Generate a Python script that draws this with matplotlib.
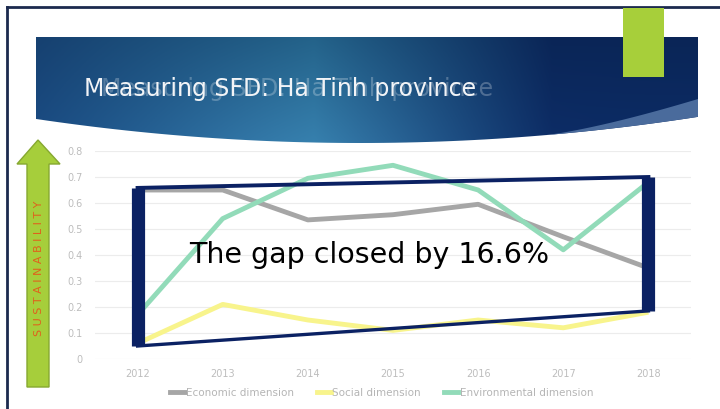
import numpy as np
import matplotlib
matplotlib.use("Agg")
import matplotlib.pyplot as plt
from matplotlib.patches import Polygon
from matplotlib.lines import Line2D

# data
years = [2012, 2013, 2014, 2015, 2016, 2017, 2018]
economic = [0.65, 0.65, 0.535, 0.555, 0.595, 0.47, 0.35]
social = [0.06, 0.21, 0.15, 0.11, 0.15, 0.12, 0.18]
environmental = [0.17, 0.54, 0.695, 0.745, 0.65, 0.42, 0.68]
series_names = ["Economic dimension", "Social dimension", "Environmental dimension"]
y_ticks = [0, 0.1, 0.2, 0.3, 0.4, 0.5, 0.6, 0.7, 0.8]
y_tick_labels = ["0", "0.1", "0.2", "0.3", "0.4", "0.5", "0.6", "0.7", "0.8"]

# the "gap" frame drawn over the chart (top edge / bottom edge)
gap_top = [0.658, 0.70]
gap_bottom = [0.05, 0.185]

W, H = 720, 409
fig = plt.figure(figsize=(W / 100, H / 100), dpi=100)
fig.patch.set_facecolor("white")

# background layer in pixel coords
bg = fig.add_axes([0, 0, 1, 1], zorder=0)
bg.set_xlim(0, W)
bg.set_ylim(H, 0)
bg.axis("off")

# slide border
bg.plot([7, W], [7, 7], color="#1c2a4e", lw=2)
bg.plot([7, 7], [7, H], color="#1c2a4e", lw=2)

# banner with gradient and curved bottom
bx0, bx1, by0, by1 = 36, 698, 37, 145
xs = np.linspace(bx0, bx1, 400)
ys = np.linspace(by0, by1, 80)
X, Y = np.meshgrid(xs, ys)
t = (X - bx0) / (bx1 - bx0)
u = (Y - by0) / (by1 - by0)
left = np.array([0x1a, 0x4c, 0x84]) / 255
mid = np.array([0x2a, 0x74, 0xa2]) / 255
right = np.array([0x0c, 0x2c, 0x66]) / 255
img = np.zeros(X.shape + (3,))
for c in range(3):
    img[..., c] = np.interp(t, [0, 0.42, 0.78, 1], [left[c], mid[c], right[c], right[c]])
glow = np.exp(-((t - 0.4) / 0.25) ** 2) * u
img = img * (0.85 + 0.15 * u[..., None]) + 0.05 * glow[..., None]
img = np.clip(img, 0, 1)


def banner_bottom(x):
    return 143 - 0.000229 * (x - 360) ** 2


curve_x = np.linspace(bx0, bx1, 60)
curve_y = banner_bottom(curve_x)
banner_pts = [(bx0, by0), (bx1, by0)] + list(zip(curve_x[::-1], curve_y[::-1]))
banner = Polygon(banner_pts, closed=True, facecolor="none", edgecolor="none")
bg.add_patch(banner)
im = bg.imshow(img, extent=[bx0, bx1, by1, by0], aspect="auto", zorder=1)
im.set_clip_path(banner)

# lighter wedge at the right end of the banner
wx = np.linspace(540, bx1, 30)
wy_top = banner_bottom(540) - (banner_bottom(540) - 99) * ((wx - 540) / (bx1 - 540)) ** 1.3
wy_bot = banner_bottom(wx)
wedge = list(zip(wx, wy_top)) + list(zip(wx[::-1], wy_bot[::-1]))
bg.add_patch(Polygon(wedge, closed=True, facecolor="#4a6b9c", edgecolor="none", zorder=2))

# green tab
bg.add_patch(Polygon([(623, 8), (664, 8), (664, 77), (623, 77)], closed=True,
                     facecolor="#a7cf3a", edgecolor="none", zorder=3))

title = "Measuring SFD: Ha Tinh province"
bg.text(101, 96, title, color="white", alpha=0.25, fontsize=17, family="DejaVu Sans",
        ha="left", va="baseline", zorder=4)
bg.text(84, 96, title, color="#f2f4f7", fontsize=17, family="DejaVu Sans",
        ha="left", va="baseline", zorder=5)

# sustainability arrow
arrow = [(38, 140), (60, 164), (49, 164), (49, 387), (27, 387), (27, 164), (17, 164)]
bg.add_patch(Polygon(arrow, closed=True, facecolor="#a6ce3b", edgecolor="#86a830",
                     lw=1, zorder=3))
bg.text(39, 268, "S U S T A I N A B I L I T Y", rotation=90, color="#e0601c",
        fontsize=8, ha="center", va="center", zorder=4)

# chart
ax = fig.add_axes([95 / W, (H - 359) / H, (691 - 95) / W, (359 - 151) / H], zorder=2)
ax.patch.set_alpha(0)
ax.plot(years, economic, color="#a6a6a6", lw=3.5, solid_capstyle="butt", zorder=3)
ax.plot(years, social, color="#f8f48c", lw=3.5, solid_capstyle="butt", zorder=3)
ax.plot(years, environmental, color="#92dbb9", lw=3.5, solid_capstyle="butt", zorder=3)

ax.set_xlim(years[0] - 0.5, years[-1] + 0.5)
ax.set_ylim(0, 0.8)
ax.set_xticks(years)
ax.set_xticklabels([str(y) for y in years])
ax.set_yticks(y_ticks)
ax.set_yticklabels(y_tick_labels)
ax.tick_params(length=0, labelsize=7, labelcolor="#bdbdbd")
ax.tick_params(axis="y", pad=9)
ax.tick_params(axis="x", pad=7)
for s in ax.spines.values():
    s.set_visible(False)
ax.grid(axis="y", color="#ececec", lw=0.8)
ax.set_axisbelow(True)

# gap frame
x0, x1 = years[0], years[-1]
navy = "#0b2163"
ax.plot([x0, x1], [gap_top[0], gap_top[1]], color=navy, lw=2.8, zorder=4, clip_on=False)
ax.plot([x0, x1], [gap_bottom[0], gap_bottom[1]], color=navy, lw=2.4, zorder=4, clip_on=False)
ax.plot([x0, x0], [gap_bottom[0], gap_top[0]], color=navy, lw=9.5, zorder=4,
        solid_capstyle="butt", clip_on=False)
ax.plot([x1, x1], [gap_bottom[1], gap_top[1]], color=navy, lw=9.5, zorder=4,
        solid_capstyle="butt", clip_on=False)

ax.text(2012.6, 0.37, "The gap closed by 16.6%", fontsize=20.5, family="DejaVu Sans",
        color="black", ha="left", va="baseline", zorder=5)

handles = [Line2D([], [], color=c, lw=3.5) for c in ["#a6a6a6", "#f8f48c", "#92dbb9"]]
leg = fig.legend(handles, series_names, loc="center", bbox_to_anchor=(0.53, 0.04),
                 ncol=3, frameon=False, fontsize=7.5, handlelength=1.4,
                 handletextpad=0.1, columnspacing=2.2)
for txt in leg.get_texts():
    txt.set_color("#b5b5b5")

fig.savefig("out.png", dpi=100)
